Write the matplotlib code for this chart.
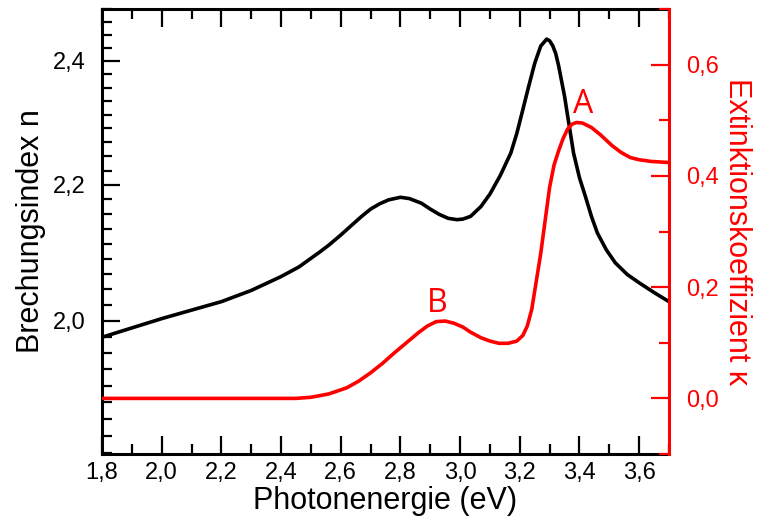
import matplotlib
matplotlib.use('Agg')
import matplotlib.pyplot as plt
from matplotlib.ticker import FixedLocator, FuncFormatter, NullFormatter, MultipleLocator
import numpy as np

# Brechungsindex n (black, left log axis)
E_n = [1.80, 1.90, 2.00, 2.10, 2.20, 2.30, 2.40, 2.46, 2.53, 2.56, 2.60, 2.63, 2.67,
       2.70, 2.73, 2.76, 2.80, 2.83, 2.87, 2.90, 2.93, 2.96, 2.99, 3.01, 3.035, 3.07,
       3.10, 3.135, 3.17, 3.19, 3.21, 3.23, 3.25, 3.27, 3.29, 3.30, 3.31, 3.32, 3.33,
       3.35, 3.36, 3.37, 3.38, 3.40, 3.42, 3.44, 3.46, 3.49, 3.52, 3.56, 3.60, 3.65, 3.70]
n_vals = [1.977, 1.990, 2.003, 2.015, 2.027, 2.043, 2.063, 2.077, 2.099, 2.109, 2.124, 2.136, 2.152,
          2.163, 2.171, 2.177, 2.181, 2.179, 2.172, 2.163, 2.155, 2.149, 2.147, 2.148, 2.152, 2.167,
          2.186, 2.215, 2.250, 2.281, 2.319, 2.358, 2.396, 2.425, 2.437, 2.434, 2.426, 2.413, 2.392,
          2.341, 2.310, 2.280, 2.250, 2.211, 2.182, 2.152, 2.127, 2.102, 2.083, 2.066, 2.054, 2.040, 2.027]

# Extinktionskoeffizient kappa (red, right axis)
E_k = [1.80, 2.45, 2.50, 2.56, 2.62, 2.66, 2.70, 2.74, 2.78, 2.82, 2.86, 2.89, 2.92,
       2.95, 2.98, 3.01, 3.035, 3.07, 3.10, 3.13, 3.16, 3.19, 3.21, 3.225, 3.24, 3.255,
       3.27, 3.285, 3.30, 3.315, 3.33, 3.345, 3.36, 3.375, 3.39, 3.41, 3.44, 3.47, 3.51,
       3.54, 3.57, 3.60, 3.64, 3.70]
k_vals = [0.0, 0.0, 0.002, 0.008, 0.019, 0.031, 0.046, 0.063, 0.082, 0.100, 0.118, 0.130, 0.138,
          0.139, 0.135, 0.128, 0.119, 0.109, 0.103, 0.099, 0.099, 0.103, 0.113, 0.130, 0.160, 0.210,
          0.260, 0.320, 0.380, 0.420, 0.445, 0.467, 0.484, 0.493, 0.496, 0.495, 0.487, 0.474, 0.454,
          0.442, 0.433, 0.429, 0.426, 0.424]

comma = FuncFormatter(lambda v, p: f'{v:.1f}'.replace('.', ','))
RED = '#ff0000'

plt.rcParams.update({
    'font.family': 'Liberation Sans',
    'font.size': 17,
})

fig = plt.figure(figsize=(7.58, 5.2), dpi=100)
ax = fig.add_axes([0.1346, 0.1269, 0.748, 0.8558])
ax2 = ax.twinx()

ax.plot(E_n, n_vals, color='black', lw=2.6, solid_capstyle='round', solid_joinstyle='round')
ax2.plot(E_k, k_vals, color=RED, lw=2.6, solid_capstyle='round', solid_joinstyle='round')

ax.set_xlim(1.8, 3.7)
ax.set_yscale('log')
ax.set_ylim(1.8215, 2.489)
ax2.set_ylim(-0.1, 0.7)

ax.xaxis.set_major_locator(MultipleLocator(0.2))
ax.xaxis.set_minor_locator(MultipleLocator(0.1))
ax.xaxis.set_major_formatter(comma)

step = 0.2 / 9
minor_n = [v for v in np.arange(1.8222, 2.489, step) if min(abs(v - m) for m in (2.0, 2.2, 2.4)) > 1e-3]
ax.yaxis.set_major_locator(FixedLocator([2.0, 2.2, 2.4]))
ax.yaxis.set_minor_locator(FixedLocator(minor_n))
ax.yaxis.set_major_formatter(comma)
ax.yaxis.set_minor_formatter(NullFormatter())

ax2.yaxis.set_major_locator(MultipleLocator(0.2))
ax2.yaxis.set_minor_locator(MultipleLocator(0.1))
ax2.yaxis.set_major_formatter(comma)

ax.tick_params(which='both', direction='in', width=1.6, top=True, right=False)
ax.tick_params(which='major', length=13)
ax.tick_params(which='minor', length=7)
ax.tick_params(axis='y', pad=12)
ax.tick_params(axis='x', pad=6)
ax2.tick_params(which='both', direction='in', width=1.6, colors=RED, pad=12)
ax2.tick_params(which='major', length=13)
ax2.tick_params(which='minor', length=7)

for s in ax.spines.values():
    s.set_linewidth(2.2)
ax.spines['right'].set_visible(False)
for name, s in ax2.spines.items():
    s.set_linewidth(2.2)
    if name != 'right':
        s.set_visible(False)
ax2.spines['right'].set_color(RED)

ax.set_xlabel('Photonenergie (eV)', fontsize=22, labelpad=1)
ax.set_ylabel('Brechungsindex n', fontsize=22, labelpad=5)
ax2.set_ylabel('Extinktionskoeffizient κ', fontsize=22, color=RED, rotation=270, labelpad=24)

ax2.text(3.412, 0.513, 'A', color=RED, fontsize=23, family='Open Sans', ha='center', va='baseline')
ax2.text(2.925, 0.155, 'B', color=RED, fontsize=23, family='Open Sans', ha='center', va='baseline')

fig.savefig('out.png', dpi=100)
